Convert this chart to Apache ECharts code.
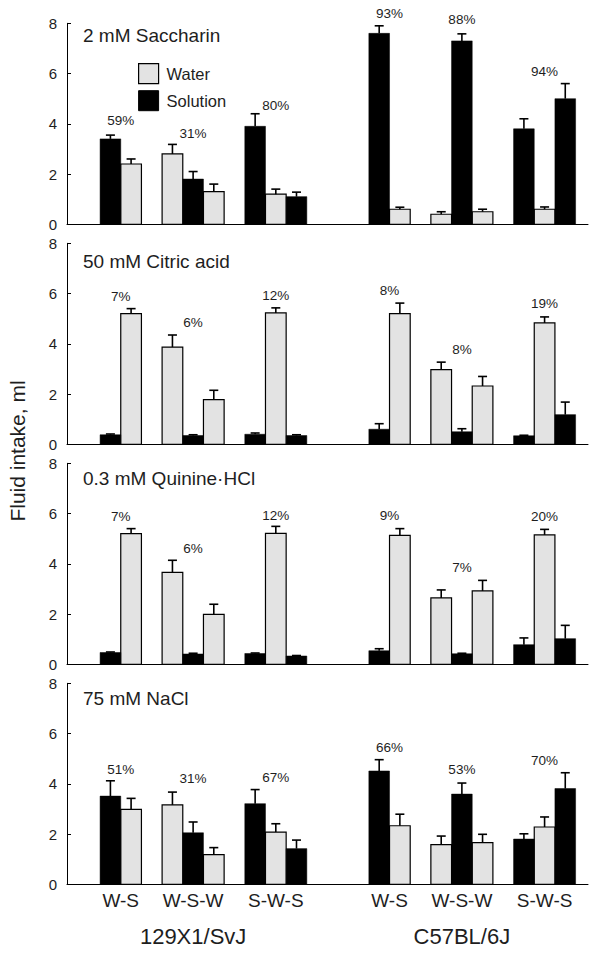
<!DOCTYPE html>
<html><head><meta charset="utf-8">
<script src="https://cdn.jsdelivr.net/npm/echarts@6/dist/echarts.min.js"></script>
<style>html,body{margin:0;padding:0;background:#fff}#c{width:601px;height:960px}</style>
</head><body><div id="c"></div><script>
// ---------------- data ----------------
const strains = ['129X1/SvJ', 'C57BL/6J'];
const schedules = ['W-S', 'W-S-W', 'S-W-S'];
// bottle shown by each bar within a schedule group (S = solution, W = water)
const bottleOrder = [['S', 'W'], ['W', 'S', 'W'], ['S', 'W', 'S']];
const panelTitles = ['2 mM Saccharin', '50 mM Citric acid', '0.3 mM Quinine·HCl', '75 mM NaCl'];
const yTicks = [0, 2, 4, 6, 8];

const saccharinMean = [3.4, 2.4, 2.8, 1.8, 1.3, 3.9, 1.2, 1.1, 7.6, 0.6, 0.4, 7.3, 0.5, 3.8, 0.6, 5.0];
const saccharinSem  = [0.15, 0.2, 0.38, 0.3, 0.3, 0.5, 0.2, 0.18, 0.3, 0.08, 0.1, 0.28, 0.1, 0.4, 0.09, 0.6];
const saccharinPct  = ['59%', '31%', '80%', '93%', '88%', '94%'];
const saccharinPctY = [4.14, 3.62, 4.74, 8.4, 8.16, 6.1];

const citricMean = [0.38, 5.2, 3.87, 0.35, 1.78, 0.4, 5.23, 0.35, 0.6, 5.2, 2.97, 0.5, 2.32, 0.34, 4.83, 1.18];
const citricSem  = [0.03, 0.2, 0.48, 0.03, 0.37, 0.05, 0.2, 0.03, 0.22, 0.42, 0.3, 0.12, 0.38, 0.02, 0.24, 0.5];
const citricPct  = ['7%', '6%', '12%', '8%', '8%', '19%'];
const citricPctY = [5.9, 4.86, 5.94, 6.14, 3.78, 5.61];

const quinineMean = [0.47, 5.2, 3.66, 0.41, 1.99, 0.43, 5.21, 0.33, 0.54, 5.13, 2.64, 0.42, 2.92, 0.78, 5.15, 1.02];
const quinineSem  = [0.02, 0.2, 0.48, 0.03, 0.4, 0.02, 0.28, 0.02, 0.08, 0.27, 0.32, 0.02, 0.42, 0.27, 0.22, 0.53];
const quininePct  = ['7%', '6%', '12%', '9%', '7%', '20%'];
const quininePctY = [5.9, 4.62, 5.94, 5.93, 3.87, 5.9];

const naclMean = [3.51, 2.98, 3.16, 2.05, 1.18, 3.21, 2.08, 1.42, 4.51, 2.33, 1.58, 3.59, 1.66, 1.8, 2.28, 3.81];
const naclSem  = [0.61, 0.44, 0.51, 0.43, 0.28, 0.56, 0.33, 0.34, 0.45, 0.46, 0.34, 0.44, 0.33, 0.21, 0.4, 0.63];
const naclPct  = ['51%', '31%', '67%', '66%', '53%', '70%'];
const naclPctY = [4.58, 4.2, 4.26, 5.45, 4.58, 4.94];

// ---------------- layout / styling ----------------
const panels = [
  {mean: saccharinMean, sem: saccharinSem, pct: saccharinPct, pctY: saccharinPctY},
  {mean: citricMean, sem: citricSem, pct: citricPct, pctY: citricPctY},
  {mean: quinineMean, sem: quinineSem, pct: quininePct, pctY: quininePctY},
  {mean: naclMean, sem: naclSem, pct: naclPct, pctY: naclPctY}
];
const FONT = '"Liberation Sans", Arial, Helvetica, sans-serif';
const TXT = '#1e1e1e';
const GRAY = '#e3e3e3';
const gridTop = [23.3, 243.3, 463.3, 683.3];
const titleCenterY = [36.3, 262, 479, 699];
const GRID_H = 201;

// slot positions of bars along the x value axis
const barSlots = [], bottleOf = [], groupCenters = [], strainCenters = [], groupLabels = [];
let s = 0;
strains.forEach((st, si) => {
  if (si > 0) s += 2;
  bottleOrder.forEach((ord, gi) => {
    const start = s;
    ord.forEach(b => { barSlots.push(s); bottleOf.push(b); s++; });
    groupCenters.push((start + s) / 2);
    groupLabels.push(schedules[gi]);
    s++;
  });
  strainCenters.push(groupCenters[groupCenters.length - 2]);
});
const X_MIN = -1.6, X_MAX = 23.6;

function labelLookup(vals, labels) {
  return function (v) {
    for (let i = 0; i < vals.length; i++) if (Math.abs(vals[i] - v) < 1e-6) return labels[i];
    return '';
  };
}

const grids = [], xAxes = [], yAxes = [], series = [], titles = [];
panels.forEach((p, pi) => {
  grids.push({left: 67, right: 13, top: gridTop[pi], height: GRID_H});
  const last = pi === panels.length - 1;
  xAxes.push({
    type: 'value', gridIndex: pi, min: X_MIN, max: X_MAX,
    axisLine: {show: true, onZero: false, lineStyle: {color: '#000', width: 1}},
    axisTick: {show: false}, splitLine: {show: false},
    axisLabel: last ? {
      show: true, customValues: groupCenters, formatter: labelLookup(groupCenters, groupLabels),
      fontSize: 19, color: TXT, fontFamily: FONT, margin: 7
    } : {show: false}
  });
  yAxes.push({
    type: 'value', gridIndex: pi, min: 0, max: 8, interval: 2,
    axisLine: {show: true, onZero: false, lineStyle: {color: '#000', width: 1}},
    axisTick: {show: true, inside: true, length: 4, lineStyle: {color: '#000'}},
    splitLine: {show: false},
    axisLabel: {fontSize: 15, color: TXT, fontFamily: FONT, margin: 10}
  });
  titles.push({
    text: panelTitles[pi], left: 83, top: titleCenterY[pi] - 10, padding: 0,
    textStyle: {fontSize: 19, fontWeight: 'normal', color: TXT, fontFamily: FONT}
  });

  ['W', 'S'].forEach(b => {
    const data = [];
    p.mean.forEach((v, i) => { if (bottleOf[i] === b) data.push([barSlots[i], v]); });
    series.push({
      type: 'custom', name: b === 'W' ? 'Water' : 'Solution',
      xAxisIndex: pi, yAxisIndex: pi, encode: {x: 0, y: 1},
      itemStyle: {color: b === 'W' ? GRAY : '#000'},
      data: data, z: 2,
      renderItem: function (params, api) {
        const x = api.value(0), v = api.value(1);
        const a = api.coord([x, 0]), c = api.coord([x + 1, v]);
        return {
          type: 'rect',
          shape: {x: a[0], y: c[1], width: c[0] - a[0], height: a[1] - c[1]},
          style: {fill: b === 'W' ? GRAY : '#000', stroke: '#000', lineWidth: b === 'W' ? 1.2 : 0.5}
        };
      }
    });
  });

  // error bars (mean + SEM)
  series.push({
    type: 'custom', name: 'sem' + pi, xAxisIndex: pi, yAxisIndex: pi, encode: {x: 0, y: 1},
    data: p.mean.map((v, i) => [barSlots[i], v, p.sem[i]]), z: 3, silent: true,
    renderItem: function (params, api) {
      const x = api.value(0) + 0.5, v = api.value(1), e = api.value(2);
      const a = api.coord([x, v]), t = api.coord([x, v + e]);
      return {
        type: 'group', children: [
          {type: 'line', shape: {x1: a[0], y1: a[1], x2: t[0], y2: t[1]}, style: {stroke: '#000', lineWidth: 1.6}},
          {type: 'line', shape: {x1: t[0] - 4.5, y1: t[1], x2: t[0] + 4.5, y2: t[1]}, style: {stroke: '#000', lineWidth: 1.6}}
        ]
      };
    }
  });

  // preference percentages
  series.push({
    type: 'custom', name: 'pct' + pi, xAxisIndex: pi, yAxisIndex: pi, encode: {x: 0, y: 1},
    data: groupCenters.map((c, i) => [c, p.pctY[i]]), z: 4, silent: true,
    renderItem: function (params, api) {
      const pt = api.coord([api.value(0), api.value(1)]);
      return {
        type: 'text', x: pt[0], y: pt[1],
        style: {text: p.pct[params.dataIndex], fill: TXT, font: '13.5px ' + FONT, textAlign: 'center', textVerticalAlign: 'middle'}
      };
    }
  });
});

// strain labels on a second bottom axis
xAxes.push({
  type: 'value', gridIndex: 3, min: X_MIN, max: X_MAX, position: 'bottom', offset: 33,
  axisLine: {show: false}, axisTick: {show: false}, splitLine: {show: false},
  axisLabel: {show: true, customValues: strainCenters, formatter: labelLookup(strainCenters, strains),
    fontSize: 22, color: TXT, fontFamily: FONT, margin: 8}
});

const chart = echarts.init(document.getElementById('c'), null, {renderer: 'svg', width: 601, height: 960});
chart.setOption({
  animation: false,
  backgroundColor: '#fff',
  title: titles,
  legend: {
    left: 133, top: 58, orient: 'vertical', itemWidth: 20, itemHeight: 20, itemGap: 6, icon: 'rect',
    textStyle: {fontSize: 16.5, color: TXT, fontFamily: FONT, padding: [0, 0, 0, 3]},
    selectedMode: false,
    data: [
      {name: 'Water', itemStyle: {color: GRAY, borderColor: '#000', borderWidth: 1.2}},
      {name: 'Solution', itemStyle: {color: '#000', borderColor: '#000', borderWidth: 1}}
    ]
  },
  grid: grids, xAxis: xAxes, yAxis: yAxes, series: series,
  graphic: [{
    type: 'text', x: 17, y: 451, rotation: Math.PI / 2,
    style: {text: 'Fluid intake, ml', fill: TXT, font: '21px ' + FONT, textAlign: 'center', textVerticalAlign: 'middle'}
  }]
});
</script></body></html>
